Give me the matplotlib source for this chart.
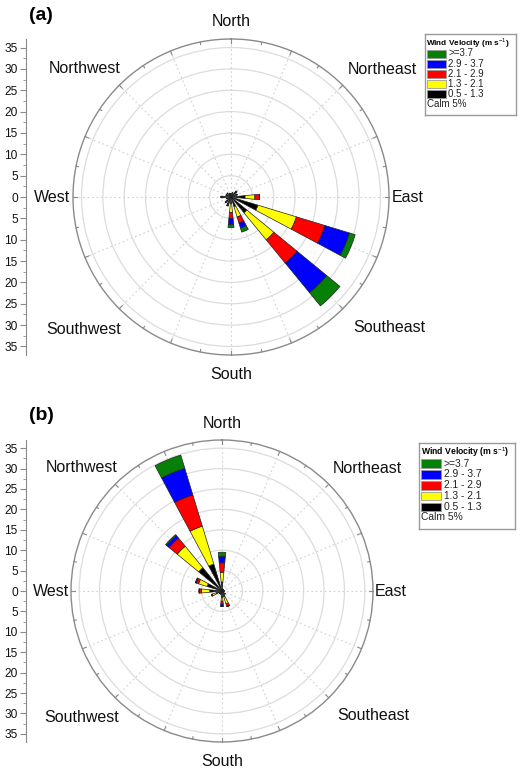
import matplotlib.pyplot as plt
import numpy as np
from matplotlib.patches import Rectangle

plt.rcParams['font.family'] = ['Liberation Sans', 'DejaVu Sans']
plt.rcParams['mathtext.fontset'] = 'custom'
plt.rcParams['mathtext.rm'] = 'Liberation Sans'
plt.rcParams['mathtext.bf'] = 'Liberation Sans:bold'

# 16 directions, clockwise from North
directions = ['N', 'NNE', 'NE', 'ENE', 'E', 'ESE', 'SE', 'SSE',
              'S', 'SSW', 'SW', 'WSW', 'W', 'WNW', 'NW', 'NNW']
speed_bins = ['0.5 - 1.3', '1.3 - 2.1', '2.1 - 2.9', '2.9 - 3.7', '>=3.7']
bin_colors = ['#000000', '#ffff00', '#ff0000', '#0000ff', '#078007']
calm_text = 'Calm 5%'
compass_labels = ['North', 'Northeast', 'East', 'Southeast',
                  'South', 'Southwest', 'West', 'Northwest']

# (a) frequency (%) of each speed bin per direction
a_black = [0.8, 1.0, 1.8, 1.2, 3.3, 6.6, 4.8, 2.4, 1.5, 1.2, 1.5, 1.0, 2.3, 1.2, 1.2, 0.8]
a_yellow = [0, 0, 0, 0.3, 2.3, 9.4, 8.2, 2.5, 2.1, 0.3, 0, 0, 0, 0, 0, 0]
a_red = [0, 0, 0, 0, 1.1, 7.0, 7.0, 1.5, 1.4, 0.3, 0, 0, 0, 0, 0, 0]
a_blue = [0, 0, 0, 0, 0, 6.0, 9.0, 1.2, 1.5, 0.4, 0.3, 0, 0, 0, 0, 0]
a_green = [0, 0, 0, 0, 0, 1.4, 4.0, 1.0, 0.7, 0, 0, 0, 0, 0, 0, 0]

# (b)
b_black = [2.2, 0.5, 0.5, 0.4, 0.6, 0.4, 1.0, 1.5, 1.5, 0.8, 0.8, 1.5, 3.0, 3.8, 7.4, 6.9]
b_yellow = [2.4, 0, 0, 0, 0, 0, 0, 1.8, 1.0, 0, 0, 1.0, 2.0, 2.2, 6.8, 9.7]
b_red = [2.3, 0, 0, 0, 0, 0, 0, 0.7, 0.7, 0, 0, 0.2, 0.6, 0.6, 2.6, 8.0]
b_blue = [1.6, 0, 0, 0, 0, 0, 0, 0, 0.6, 0, 0, 0, 0, 0.2, 0.8, 6.8]
b_green = [1.0, 0, 0, 0, 0, 0, 0, 0, 0, 0, 0, 0, 0, 0, 0.3, 3.4]

RMAX = 37
W, H = 520, 769
fig = plt.figure(figsize=(W / 100, H / 100), dpi=100)


def px_rect(x0, y0, w, h):
    # pixel box (top-left origin) -> figure fraction
    return [x0 / W, (H - y0 - h) / H, w / W, h / H]


def wind_rose(cx, cy, rad, bins, tag, tag_xy, leg_box, leg_scale):
    ax = fig.add_axes(px_rect(cx - rad, cy - rad, 2 * rad, 2 * rad), projection='polar')
    ax.set_theta_zero_location('N')
    ax.set_theta_direction(-1)
    theta = np.deg2rad(np.arange(16) * 22.5)
    width = np.deg2rad(11.25)
    bottom = np.zeros(16)
    for vals, col in zip(bins, bin_colors):
        vals = np.array(vals, dtype=float)
        ax.bar(theta, vals, width=width, bottom=bottom, color=col,
               edgecolor='#222222', linewidth=0.5, zorder=3)
        bottom += vals
    ax.set_ylim(0, RMAX)
    ax.set_rticks(np.arange(5, 40, 5))
    ax.set_yticklabels([])
    ax.set_thetagrids(np.arange(0, 360, 22.5), labels=[''] * 16)
    ax.yaxis.grid(True, color='#dcdcdc', linestyle='-', linewidth=0.9)
    ax.xaxis.grid(True, color='#d0d0d0', linestyle=(0, (1.5, 2.5)), linewidth=0.8)
    ax.spines['polar'].set_color('#8a8a8a')
    ax.spines['polar'].set_linewidth(1.0)
    ax.tick_params(length=0)
    ax.set_axisbelow(True)
    # small ticks on the rim
    for k in range(32):
        t = np.deg2rad(k * 11.25)
        ln = 1.0 if k % 2 == 0 else 0.6
        ax.plot([t, t], [RMAX - ln, RMAX], color='#8a8a8a', lw=0.8,
                clip_on=False, zorder=4)
    # compass labels
    pos = [(0.5, 1.056), (0.98, 0.905), (1.06, 0.5), (1.0, 0.088),
           (0.5, -0.063), (0.034, 0.082), (-0.066, 0.5), (0.036, 0.908)]
    for lab, (x, y) in zip(compass_labels, pos):
        ax.text(x, y, lab, transform=ax.transAxes, ha='center', va='center',
                fontsize=11.5, color='#111111')

    # left linear scale
    ay = fig.add_axes(px_rect(26, cy - rad, 10, 2 * rad))
    ay.set_ylim(-RMAX, RMAX)
    ay.set_xlim(0, 1)
    for s in ['top', 'right', 'bottom']:
        ay.spines[s].set_visible(False)
    ay.spines['left'].set_color('#8a8a8a')
    ay.patch.set_alpha(0)
    ay.set_xticks([])
    ticks = np.arange(-35, 40, 5)
    ay.set_yticks(ticks)
    ay.set_yticklabels([str(abs(int(v))) for v in ticks], fontsize=8.6, color='#111111')
    ay.set_yticks(np.arange(-35, 37.5, 2.5), minor=True)
    ay.tick_params(axis='y', which='major', length=4, color='#8a8a8a', pad=2)
    ay.tick_params(axis='y', which='minor', length=2, color='#8a8a8a')

    fig.text(tag_xy[0] / W, 1 - tag_xy[1] / H, tag, fontsize=14, fontweight='bold',
             ha='left', va='center')

    # legend box
    lx, ly, lw_, lh = leg_box
    lg = fig.add_axes(px_rect(lx, ly, lw_, lh))
    lg.set_xlim(0, lw_)
    lg.set_ylim(lh, 0)
    lg.set_xticks([])
    lg.set_yticks([])
    for s in lg.spines.values():
        s.set_color('#9a9a9a')
        s.set_linewidth(1.0)
    s_ = leg_scale
    fs = 7.0 * s_
    lg.text(1.5 * s_, 9 * s_, r'Wind Velocity (m s$^{-1}$)', fontsize=5.9 * s_,
            fontweight='bold', va='center', ha='left')
    for i, (lab, col) in enumerate(zip(speed_bins[::-1], bin_colors[::-1])):
        yc = 19.5 * s_ + i * 10.2 * s_
        lg.add_patch(Rectangle((2 * s_, yc - 4 * s_), 19 * s_, 8 * s_,
                               facecolor=col, edgecolor='#9a9a9a', lw=0.6))
        lg.text(23.5 * s_, yc, lab, fontsize=fs, va='center', ha='left', color='#222222')
    lg.text(2 * s_, 19.5 * s_ + 5 * 10.2 * s_ - 0.5 * s_, calm_text, fontsize=fs,
            va='center', ha='left', color='#222222')
    return ax


wind_rose(231, 197, 158,
          [a_black, a_yellow, a_red, a_blue, a_green],
          '(a)', (29, 16), (425, 34, 91, 81), 1.0)
wind_rose(222, 591, 151,
          [b_black, b_yellow, b_red, b_blue, b_green],
          '(b)', (29, 415), (419, 443, 96, 86), 1.06)

fig.savefig('out.png', dpi=100)
